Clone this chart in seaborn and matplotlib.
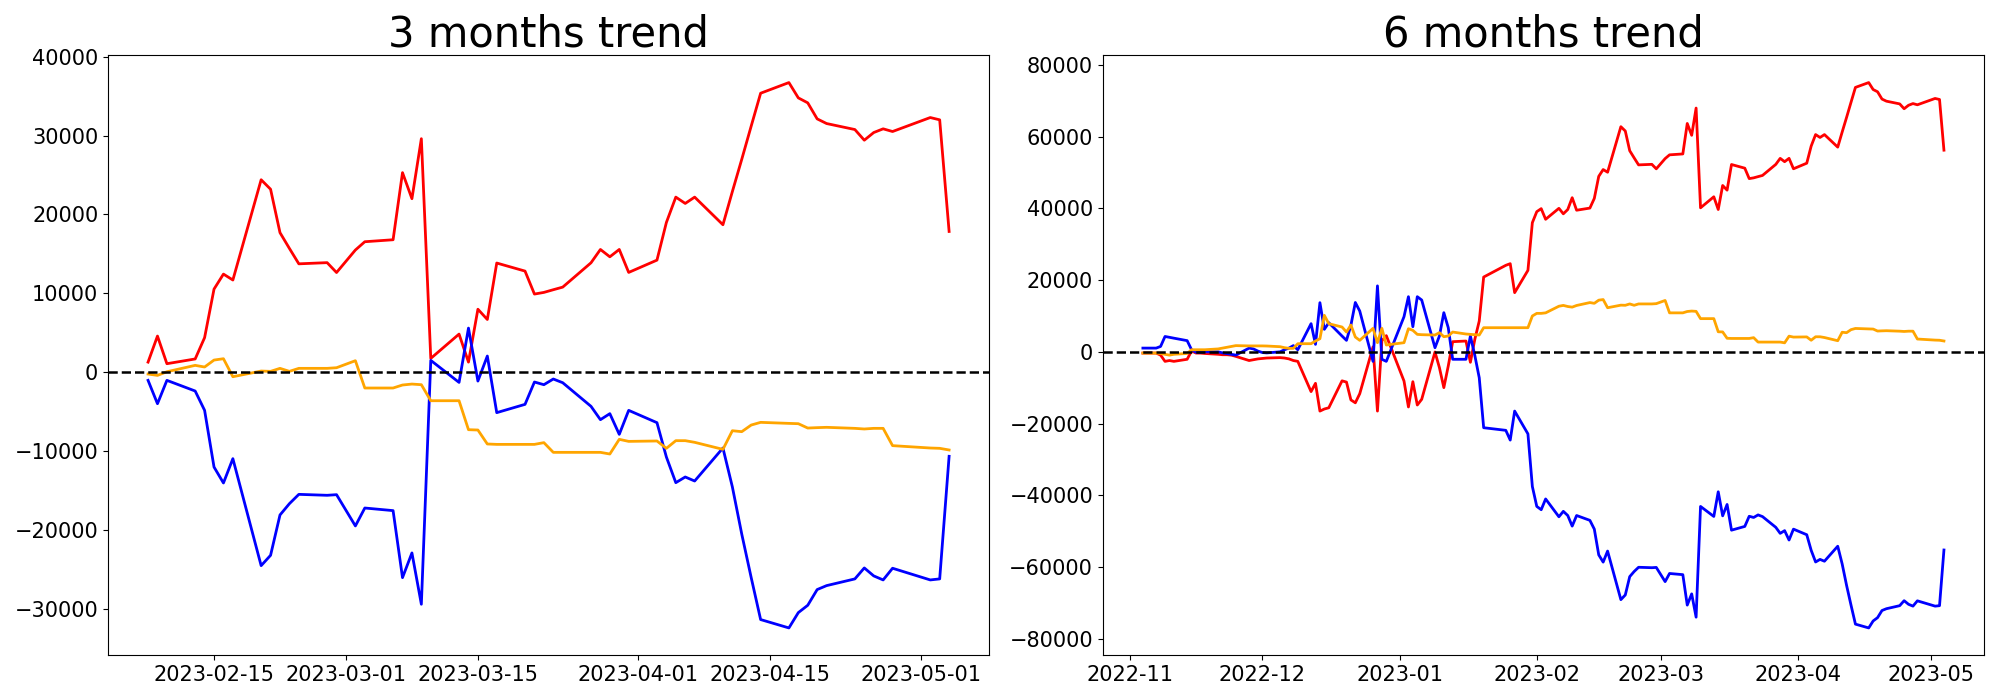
import pandas as pd
import matplotlib.pyplot as plt
import seaborn as sns

# trading days of the last 3 months
dates_3m = [
    "2023-02-08", "2023-02-09", "2023-02-10", "2023-02-13", "2023-02-14", "2023-02-15",
    "2023-02-16", "2023-02-17", "2023-02-20", "2023-02-21", "2023-02-22", "2023-02-23",
    "2023-02-24", "2023-02-27", "2023-02-28", "2023-03-02", "2023-03-03", "2023-03-06",
    "2023-03-07", "2023-03-08", "2023-03-09", "2023-03-10", "2023-03-13", "2023-03-14",
    "2023-03-15", "2023-03-16", "2023-03-17", "2023-03-20", "2023-03-21", "2023-03-22",
    "2023-03-23", "2023-03-24", "2023-03-27", "2023-03-28", "2023-03-29", "2023-03-30",
    "2023-03-31", "2023-04-03", "2023-04-04", "2023-04-05", "2023-04-06", "2023-04-07",
    "2023-04-10", "2023-04-11", "2023-04-12", "2023-04-13", "2023-04-14", "2023-04-17",
    "2023-04-18", "2023-04-19", "2023-04-20", "2023-04-21", "2023-04-24", "2023-04-25",
    "2023-04-26", "2023-04-27", "2023-04-28", "2023-05-02", "2023-05-03", "2023-05-04",
]

red_3m = [
    1300, 4600, 1100, 1700, 4400, 10550, 12450, 11700, 24400, 23200, 17700, 15700,
    13750, 13900, 12650, 15500, 16550, 16800, 25300, 22000, 29600, 1770, 4850, 1300,
    8000, 6700, 13850, 12830, 9920, 10130, 10470, 10800, 13880, 15570, 14640, 15570,
    12660, 14220, 18990, 22200, 21400, 22200, 18700, 22900, 27000, 31200, 35360, 36710,
    34770, 34140, 32110, 31520, 30760, 29410, 30380, 30850, 30510, 32280, 31990, 17850,
]
blue_3m = [
    -1010, -3970, -1010, -2360, -4810, -11990, -14010, -10930, -24480, -23170, -18060, -16630,
    -15450, -15570, -15490, -19450, -17180, -17510, -26000, -22870, -29370, 1520, -1270, 5610,
    -1100, 2070, -5100, -4050, -1220, -1560, -840, -1310, -4300, -5990, -5230, -7850,
    -4810, -6370, -10720, -13970, -13250, -13760, -9580, -14500, -20500, -26000, -31310, -32370,
    -30430, -29500, -27510, -27010, -26160, -24770, -25780, -26290, -24810, -26290, -26160, -10630,
]
orange_3m = [
    -210, -380, 80, 890, 680, 1560, 1730, -550, 170, 130, 510, 130,
    510, 510, 590, 1480, -1980, -1980, -1600, -1480, -1560, -3590, -3590, -7260,
    -7300, -9070, -9120, -9120, -9120, -8900, -10130, -10130, -10130, -10130, -10340, -8480,
    -8740, -8690, -9620, -8650, -8650, -8860, -9750, -7390, -7510, -6670, -6330, -6460,
    -6500, -7050, -7000, -6960, -7090, -7170, -7090, -7090, -9280, -9580, -9620, -9830,
]

# extra trading days at the start of the 6 month window
dates_6m_head = [
    "2022-11-04", "2022-11-07", "2022-11-08", "2022-11-09", "2022-11-10", "2022-11-11",
    "2022-11-14", "2022-11-15", "2022-11-16", "2022-11-17", "2022-11-18", "2022-11-21",
    "2022-11-22", "2022-11-23", "2022-11-24", "2022-11-25", "2022-11-28", "2022-11-29",
    "2022-11-30", "2022-12-01", "2022-12-02", "2022-12-05", "2022-12-06", "2022-12-07",
    "2022-12-08", "2022-12-09", "2022-12-12", "2022-12-13", "2022-12-14", "2022-12-15",
    "2022-12-16", "2022-12-19", "2022-12-20", "2022-12-21", "2022-12-22", "2022-12-23",
    "2022-12-26", "2022-12-27", "2022-12-28", "2022-12-29", "2023-01-02", "2023-01-03",
    "2023-01-04", "2023-01-05", "2023-01-06", "2023-01-09", "2023-01-10", "2023-01-11",
    "2023-01-12", "2023-01-13", "2023-01-16", "2023-01-17", "2023-01-18", "2023-01-19",
    "2023-01-20", "2023-01-25", "2023-01-26", "2023-01-27", "2023-01-30", "2023-01-31",
    "2023-02-01", "2023-02-02", "2023-02-03", "2023-02-06", "2023-02-07",
]
dates_6m = dates_6m_head + dates_3m

red_6m = [
    -350, -350, -920, -2660, -2430, -2660, -2080, 230, -350, -350, -460, -690,
    -810, -810, -920, -1270, -2430, -2200, -1970, -1850, -1730, -1620, -1730, -1970,
    -2430, -2660, -11100, -8790, -16530, -15950, -15610, -8090, -8440, -13410, -14220, -11680,
    1390, -16530, 3120, 4510, -8150, -15380, -8330, -14840, -13240, -50, -4410, -9990,
    -3940, 2830, 3010, -2920, 3480, 8590, 20860, 24130, 24590, 16500, 22730, 36030,
    39100, 39940, 36970, 40030, 38500,
    39700, 43000, 39500, 40100, 42800, 48950, 50850, 50100, 62800, 61600, 56100, 54100,
    52150, 52300, 51050, 53900, 54950, 55200, 63700, 60400, 68000, 40170, 43250, 39700,
    46400, 45100, 52250, 51230, 48320, 48530, 48870, 49200, 52280, 53970, 53040, 53970,
    51060, 52620, 57390, 60600, 59800, 60600, 57100, 61300, 65400, 69600, 73760, 75110,
    73170, 72540, 70510, 69920, 69160, 67810, 68780, 69250, 68910, 70680, 70390, 56250,
]
blue_6m = [
    1040, 1040, 1500, 4280, 4050, 3810, 3120, 580, -120, -100, 0, 0,
    -300, -500, -700, -920, 1040, 800, 200, -200, -300, 0, 580, 1040,
    1730, 580, 7850, 2080, 13710, 6270, 8130, 4400, 3200, 7400, 13760, 11380,
    -2660, 18400, -2080, -2660, 9800, 15380, 7010, 15380, 14450, 1150, 4410, 10920,
    6730, -2080, -2080, 4410, -1000, -7230, -21170, -21900, -24620, -16530, -22890, -37570,
    -43120, -44040, -41040, -46010, -44500,
    -45660, -48620, -45660, -47010, -49460, -56640, -58660, -55580, -69130, -67820, -62710, -61280,
    -60100, -60220, -60140, -64100, -61830, -62160, -70650, -67520, -74020, -43130, -45920, -39040,
    -45750, -42580, -49750, -48700, -45870, -46210, -45490, -45960, -48950, -50640, -49880, -52500,
    -49460, -51020, -55370, -58620, -57900, -58410, -54230, -59150, -65150, -70650, -75960, -77020,
    -75080, -74150, -72160, -71660, -70810, -69420, -70430, -70940, -69460, -70940, -70810, -55280,
]
orange_6m = [
    -350, -350, -460, -690, -920, -690, -460, 580, 580, 580, 580, 810,
    1040, 1270, 1500, 1730, 1650, 1650, 1650, 1650, 1620, 1430, 1150, 970,
    970, 2270, 2270, 3010, 3660, 10180, 7850, 6920, 5520, 7480, 4130, 3200,
    6550, 2550, 6550, 1900, 2550, 6450, 5990, 4870, 4780, 4690, 5340, 4220,
    4410, 5520, 4970, 4870, 4780, 4690, 6730, 6730, 6730, 6730, 6730, 10000,
    10730, 10730, 10870, 12720, 12950,
    12640, 12470, 12930, 13740, 13530, 14410, 14580, 12300, 13020, 12980, 13360, 12980,
    13360, 13360, 13440, 14330, 10870, 10870, 11250, 11370, 11290, 9260, 9260, 5590,
    5550, 3780, 3730, 3730, 3730, 3950, 2720, 2720, 2720, 2720, 2510, 4370,
    4110, 4160, 3230, 4200, 4200, 3990, 3100, 5460, 5340, 6180, 6520, 6390,
    6350, 5800, 5850, 5890, 5760, 5680, 5760, 5760, 3570, 3270, 3230, 3020,
]

panels = [
    ("3 months trend", dates_3m, red_3m, blue_3m, orange_3m),
    ("6 months trend", dates_6m, red_6m, blue_6m, orange_6m),
]

fig, axes = plt.subplots(1, 2, figsize=(20, 7), dpi=100)
fig.subplots_adjust(left=0.054, right=0.992, bottom=0.064, top=0.921, wspace=0.129)

for ax, (title, dates, red, blue, orange) in zip(axes, panels):
    x = pd.to_datetime(dates)
    sns.lineplot(x=x, y=red, ax=ax, color="red", linewidth=2)
    sns.lineplot(x=x, y=blue, ax=ax, color="blue", linewidth=2)
    sns.lineplot(x=x, y=orange, ax=ax, color="orange", linewidth=2)
    ax.axhline(0, color="black", linestyle="--", linewidth=1.8)
    ax.set_title(title, fontsize=30)
    ax.set_xlabel("")
    ax.set_ylabel("")
    ax.tick_params(labelsize=15)

fig.savefig("out.png")
